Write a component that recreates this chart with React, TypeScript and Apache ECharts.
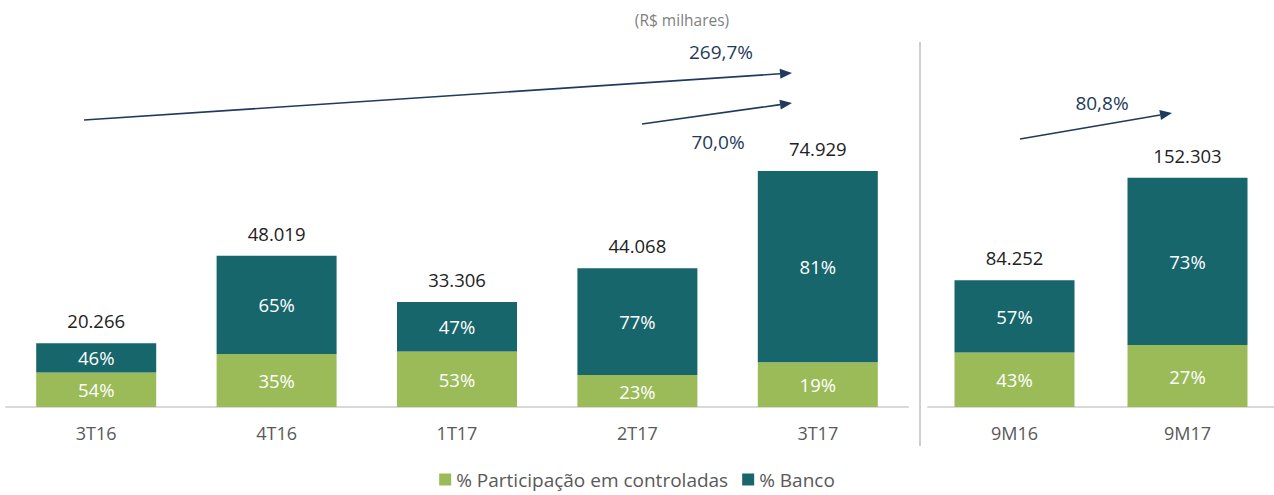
import React, { useEffect, useRef } from "react";
import * as echarts from "echarts";

const quarters = ["3T16", "4T16", "1T17", "2T17", "3T17"];
const quarterTotals = [20266, 48019, 33306, 44068, 74929];
const quarterPartPct = [54, 35, 53, 23, 19];
const quarterBancoPct = [46, 65, 47, 77, 81];

const periods = ["9M16", "9M17"];
const periodTotals = [84252, 152303];
const periodPartPct = [43, 27];
const periodBancoPct = [57, 73];

const growthLabels = ["269,7%", "70,0%", "80,8%"];

const GREEN = "#9bbb59";
const TEAL = "#17666b";
const NAVY = "#1f3a5a";
const FONT = "'Open Sans', 'Noto Sans', sans-serif";

function fmt(n: number) {
  return n.toString().replace(/\B(?=(\d{3})+(?!\d))/g, ".");
}

function arrow(x1: number, y1: number, x2: number, y2: number) {
  const ang = Math.atan2(y2 - y1, x2 - x1);
  const len = 12;
  const hw = 5;
  const bx = x2 - len * Math.cos(ang);
  const by = y2 - len * Math.sin(ang);
  const px = -Math.sin(ang) * hw;
  const py = Math.cos(ang) * hw;
  return [
    {
      type: "line",
      shape: { x1, y1, x2: bx, y2: by },
      style: { stroke: NAVY, lineWidth: 1.6 },
    },
    {
      type: "polygon",
      shape: { points: [[x2, y2], [bx + px, by + py], [bx - px, by - py]] },
      style: { fill: NAVY },
    },
  ];
}

export default function App() {
  const ref = useRef<HTMLDivElement>(null);
  useEffect(() => {
    if (!ref.current) return;
    const chart = echarts.init(ref.current, null, { renderer: "svg" });
    const segLabel = {
      show: true,
      color: "#ffffff",
      fontSize: 18.5,
      fontFamily: FONT,
    };
    const totalLabel = (totals: number[]) => ({
      show: true,
      position: "top",
      distance: 13,
      color: "#222222",
      fontSize: 18.5,
      fontFamily: FONT,
      formatter: (p: any) => fmt(totals[p.dataIndex]),
    });
    const xAxisBase = {
      type: "category",
      axisTick: { show: false },
      axisLine: { lineStyle: { color: "#d9d9d9", width: 2 } },
      axisLabel: { color: "#595959", fontSize: 18, fontFamily: FONT, margin: 17 },
    };
    const yAxisBase = {
      type: "value",
      min: 0,
      show: false,
      splitLine: { show: false },
    };
    const growthStyle = { fill: NAVY, fontSize: 19, fontFamily: FONT, align: "center", verticalAlign: "middle" };
    chart.setOption({
      animation: false,
      title: {
        text: "(R$ milhares)",
        left: 677,
        textAlign: "center",
        top: 7,
        textStyle: { color: "#7f7f7f", fontSize: 15.5, fontWeight: "normal", fontFamily: FONT },
      },
      legend: {
        bottom: 1,
        left: "center",
        itemWidth: 12,
        itemHeight: 12,
        itemGap: 14,
        icon: "rect",
        data: ["% Participação em controladas", "% Banco"],
        textStyle: { color: "#595959", fontSize: 19, fontFamily: FONT },
      },
      grid: [
        { left: 6, width: 902, top: 92, height: 315 },
        { left: 928, width: 361, top: 106, height: 301 },
      ],
      xAxis: [
        { ...xAxisBase, gridIndex: 0, data: quarters },
        { ...xAxisBase, gridIndex: 1, data: periods },
      ],
      yAxis: [
        { ...yAxisBase, gridIndex: 0, max: 100000 },
        { ...yAxisBase, gridIndex: 1, max: 200000 },
      ],
      series: [
        {
          name: "% Participação em controladas",
          type: "bar",
          stack: "q",
          xAxisIndex: 0,
          yAxisIndex: 0,
          barWidth: 120,
          itemStyle: { color: GREEN },
          label: { ...segLabel, formatter: (p: any) => quarterPartPct[p.dataIndex] + "%" },
          data: quarterTotals.map((t, i) => (t * quarterPartPct[i]) / 100),
        },
        {
          name: "% Banco",
          type: "bar",
          stack: "q",
          xAxisIndex: 0,
          yAxisIndex: 0,
          barWidth: 120,
          itemStyle: { color: TEAL },
          label: { ...segLabel, formatter: (p: any) => quarterBancoPct[p.dataIndex] + "%" },
          data: quarterTotals.map((t, i) => (t * quarterBancoPct[i]) / 100),
        },
        {
          name: "totalQ",
          type: "bar",
          stack: "q",
          xAxisIndex: 0,
          yAxisIndex: 0,
          barWidth: 120,
          itemStyle: { color: "transparent" },
          label: totalLabel(quarterTotals),
          data: quarterTotals.map(() => 0),
        },
        {
          name: "% Participação em controladas",
          type: "bar",
          stack: "p",
          xAxisIndex: 1,
          yAxisIndex: 1,
          barWidth: 120,
          itemStyle: { color: GREEN },
          label: { ...segLabel, formatter: (p: any) => periodPartPct[p.dataIndex] + "%" },
          data: periodTotals.map((t, i) => (t * periodPartPct[i]) / 100),
        },
        {
          name: "% Banco",
          type: "bar",
          stack: "p",
          xAxisIndex: 1,
          yAxisIndex: 1,
          barWidth: 120,
          itemStyle: { color: TEAL },
          label: { ...segLabel, formatter: (p: any) => periodBancoPct[p.dataIndex] + "%" },
          data: periodTotals.map((t, i) => (t * periodBancoPct[i]) / 100),
        },
        {
          name: "totalP",
          type: "bar",
          stack: "p",
          xAxisIndex: 1,
          yAxisIndex: 1,
          barWidth: 120,
          itemStyle: { color: "transparent" },
          label: totalLabel(periodTotals),
          data: periodTotals.map(() => 0),
        },
      ],
      graphic: [
        {
          type: "line",
          shape: { x1: 920, y1: 42, x2: 920, y2: 446 },
          style: { stroke: "#bfbfbf", lineWidth: 1.5 },
        },
        ...arrow(84, 120, 792, 73),
        ...arrow(642, 124, 792, 103),
        ...arrow(1020, 139, 1172, 113),
        { type: "text", x: 721, y: 52, style: { text: growthLabels[0], ...growthStyle } },
        { type: "text", x: 718, y: 142, style: { text: growthLabels[1], ...growthStyle } },
        { type: "text", x: 1102, y: 103, style: { text: growthLabels[2], ...growthStyle } },
      ],
    });
    return () => chart.dispose();
  }, []);
  return (
    <div
      ref={ref}
      style={{ position: "fixed", left: 0, top: 0, width: 1274, height: 495, background: "#ffffff" }}
    />
  );
}
